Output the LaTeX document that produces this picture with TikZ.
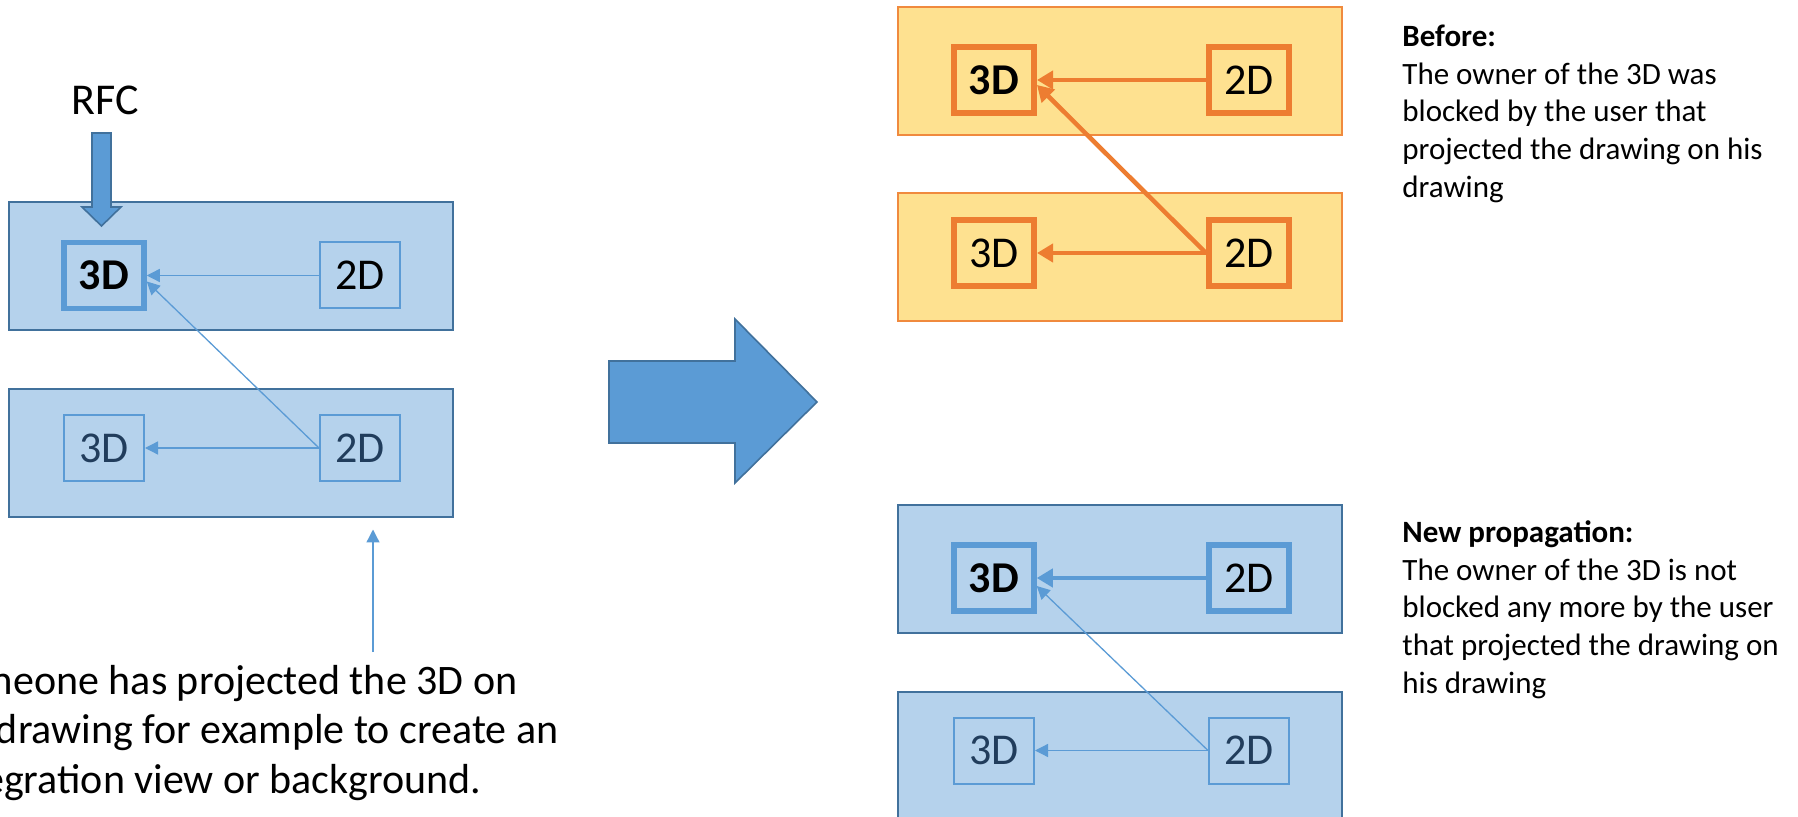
\documentclass[tikz,border=0pt]{standalone}
\usepackage{fontspec}
\setmainfont{Carlito}
\usetikzlibrary{arrows.meta}
\definecolor{bfill}{HTML}{B5D2EC}
\definecolor{bdark}{HTML}{41719C}
\definecolor{bmid}{HTML}{5B9BD5}
\definecolor{ofill}{HTML}{FEE190}
\definecolor{omid}{HTML}{ED7D31}
\definecolor{oline}{HTML}{F08A3E}
\definecolor{dtext}{HTML}{213D5C}
\tikzset{
  lbl/.style={font=\fontsize{22}{26}\selectfont},
  lblb/.style={font=\fontsize{22}{26}\selectfont\bfseries},
  bcont/.style={draw=bdark, fill=bfill, line width=1pt, minimum width=222pt, minimum height=64pt, inner sep=0pt},
  ocont/.style={draw=oline, fill=ofill, line width=1pt, minimum width=222pt, minimum height=64pt, inner sep=0pt},
  bthick/.style={lbl, draw=bmid, line width=2.75pt, minimum width=40pt, minimum height=33pt, inner sep=0pt, text=black},
  bthin/.style={lbl, draw=bmid, line width=1pt, minimum width=40pt, minimum height=33pt, inner sep=0pt},
  othick/.style={lbl, draw=omid, line width=3pt, minimum width=40pt, minimum height=33pt, inner sep=0pt, text=black},
  thinarr/.style={draw=bmid, line width=0.65pt, -{Triangle[length=6.5pt,width=6.5pt]}},
  thickbarr/.style={draw=bmid, line width=2.25pt, -{Triangle[length=8pt,width=9pt]}},
  thickoarr/.style={draw=omid, line width=2.25pt, -{Triangle[length=8pt,width=9pt]}},
  blockarr/.style={fill=bmid, draw=bdark, line width=0.8pt, line join=miter},
  desc/.style={anchor=north west, inner sep=0pt, align=left, font=\fontsize{15.5}{18.9}\selectfont},
}
\begin{document}
\begin{tikzpicture}[x=0.5pt,y=-0.5pt]
\useasboundingbox (0,0) rectangle (1798,817);
\clip (0,0) rectangle (1798,817);

% ---------- left diagram ----------
\node[bcont] (LT) at (230.5,266.5) {};
\node[bcont] (LB) at (230.5,453.5) {};
\node[lbl, anchor=base] (rfc) at (105,115) {RFC};
\draw[blockarr] (92,133) -- (111,133) -- (111,207) -- (121,207) -- (101.5,226) -- (82,207) -- (92,207) -- cycle;

\node[bthick, lblb] (LT3) at (104,275.5) {3D};
\node[bthin, text=black] (LT2) at (360,275.5) {2D};
\node[bthin, text=dtext] (LB3) at (104,448) {3D};
\node[bthin, text=dtext] (LB2) at (360,448) {2D};
\draw[thinarr] (LT2) -- (LT3);
\draw[thinarr] (LB2.west) -- ([yshift=-3pt]LT3.east);
\draw[thinarr] (LB2) -- (LB3);

\coordinate (ann) at (373,652);
\draw[thinarr] (ann) -- ([yshift=-5.5pt]LB.south -| ann);
\node[anchor=north west, inner sep=0pt, align=left, font=\fontsize{21}{24.75}\selectfont] (note) at (-62,659)
  {\strut Someone has projected the 3D on\\his drawing for example to create an\\integration view or background.};

% ---------- big arrow ----------
\draw[blockarr] (609,361) -- (735,361) -- (735,319) -- (817,402) -- (735,483) -- (735,443) -- (609,443) -- cycle;

% ---------- right: before ----------
\node[ocont] (OT) at (1120,71) {};
\node[ocont] (OB) at (1120,257.5) {};
\node[othick, lblb] (OT3) at (994,80) {3D};
\node[othick] (OT2) at (1249,80) {2D};
\node[othick] (OB3) at (994,253) {3D};
\node[othick] (OB2) at (1249,253) {2D};
\draw[thickoarr] (OT2) -- (OT3);
\draw[thickoarr] (OB2.west) -- ([yshift=-2.5pt]OT3.east);
\draw[thickoarr] (OB2) -- (OB3);

\node[desc] (before) at (1402,19.5)
  {\strut\textbf{Before:}\\The owner of the 3D was\\blocked by the user that\\projected the drawing on his\\drawing};

% ---------- right: new propagation ----------
\node[bcont] (BT) at (1120,569) {};
\node[bcont] (BB) at (1120,756) {};
\node[bthick, lblb] (BT3) at (994,578) {3D};
\node[bthick] (BT2) at (1249,578) {2D};
\node[bthin, text=dtext] (BB3) at (994,750.5) {3D};
\node[bthin, text=dtext] (BB2) at (1249,750.5) {2D};
\draw[thickbarr] (BT2) -- (BT3);
\draw[thinarr] (BB2.west) -- ([yshift=-4pt]BT3.east);
\draw[thinarr] (BB2) -- (BB3);

\node[desc] (newprop) at (1402,515.5)
  {\strut\textbf{New propagation:}\\The owner of the 3D is not\\blocked any more by the user\\that projected the drawing on\\his drawing};
\end{tikzpicture}
\end{document}
